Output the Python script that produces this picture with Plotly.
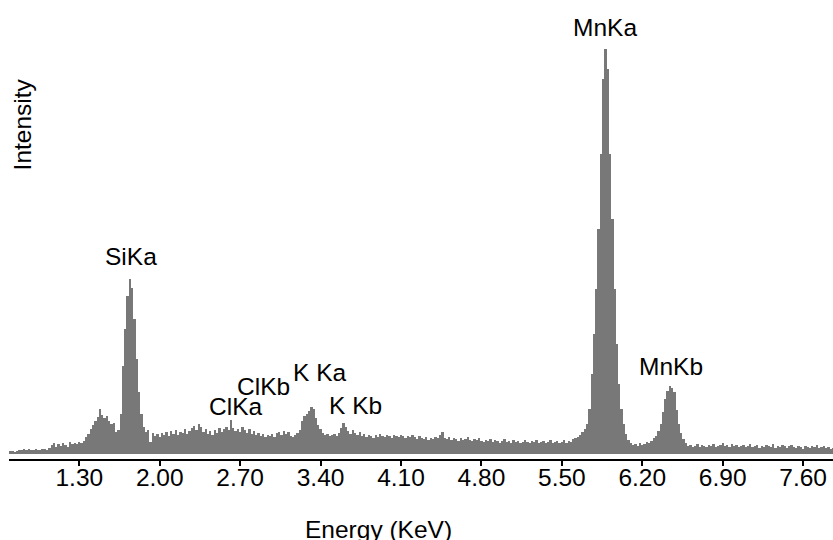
import plotly.graph_objects as go

# ---- data ----
e_start = 0.70   # keV, first channel centre
e_step = 0.02    # keV per channel

counts = [
    # 0.70 - 1.04
    3, 3, 2, 3, 4, 4, 5, 4, 5, 4, 4, 5, 4, 4, 5, 5, 4, 6,
    # 1.06 - 1.28
    9, 11, 7, 10, 8, 11, 9, 7, 12, 10, 11, 10,
    # 1.30 - 1.40
    12, 11, 13, 17, 20, 25,
    # 1.42 - 1.64
    29, 33, 37, 45, 39, 36, 38, 33, 30, 31, 22, 24,
    # 1.66 - 1.96 (Si Ka)
    40, 88, 125, 158, 175, 166, 135, 95, 62, 40, 27, 22, 24, 12, 21, 18,
    # 1.98 - 2.28
    20, 17, 21, 19, 22, 18, 23, 20, 24, 19, 22, 21, 25, 20, 23, 26,
    # 2.30 - 2.40
    28, 24, 30, 27, 22, 25,
    # 2.42 - 2.58
    20, 23, 19, 24, 21, 26, 22, 25, 27,
    # 2.60 - 2.64 (Cl Ka)
    24, 34, 26,
    # 2.66 - 2.84
    23, 25, 22, 27, 24, 21, 25, 20, 23, 19,
    # 2.86 - 3.20
    21, 18, 20, 17, 19, 18, 20, 17, 21, 22, 19, 23, 20, 22, 18, 17, 19, 21,
    # 3.22 - 3.40 (K Ka)
    24, 33, 38, 40, 43, 47, 45, 36, 29, 25,
    # 3.42 - 3.56
    21, 19, 20, 18, 19, 20, 18, 21,
    # 3.58 - 3.64 (K Kb)
    26, 31, 27, 23,
    # 3.66 - 4.20
    20, 24, 21, 19, 22, 18, 20, 17, 19, 18, 16, 19, 17, 20, 18, 17, 19, 18,
    16, 19, 18, 17, 19, 18, 16, 18, 17, 19,
    # 4.22 - 5.60
    17, 15, 18, 16, 15, 17, 14, 16, 15, 17,
    16, 19, 22, 16, 15, 17, 14, 16, 15, 13,
    16, 14, 15, 17, 14, 13, 15, 14, 16, 13,
    12, 14, 13, 15, 12, 14, 13, 11, 13, 15,
    12, 13, 11, 14, 12, 13, 11, 12, 14, 12,
    11, 13, 12, 14, 11, 12, 13, 11, 12, 14,
    11, 12, 13, 11, 12, 14, 11, 13, 12, 15,
    # 5.62 - 6.08 (Mn Ka)
    16, 17, 19, 22, 25, 30, 45, 80, 120, 165, 225, 300, 375, 405, 385,
    300, 235, 165, 110, 70, 45, 30, 20, 14,
    # 6.10 - 6.30
    11, 9, 10, 8, 11, 9, 10, 12, 11, 13, 16,
    # 6.32 - 6.60 (Mn Kb)
    18, 23, 30, 42, 55, 63, 68, 66, 62, 44, 30, 21, 15, 11, 8,
    # 6.62 - 7.86
    9, 7, 8, 10, 7, 9, 8, 7, 9, 8,
    10, 7, 8, 9, 11, 8, 9, 7, 10, 8,
    9, 7, 8, 9, 7, 8, 10, 7, 8, 9,
    6, 8, 7, 9, 8, 7, 10, 6, 8, 7,
    9, 8, 6, 8, 9, 7, 6, 8, 7, 5,
    8, 7, 6, 8, 7, 9, 6, 7, 8, 6,
    7, 5, 6,
]

energies = [round(e_start + i * e_step, 2) for i in range(len(counts))]

tick_values = [1.30, 2.00, 2.70, 3.40, 4.10, 4.80, 5.50, 6.20, 6.90, 7.60]
tick_text = ["1.30", "2.00", "2.70", "3.40", "4.10", "4.80", "5.50", "6.20", "6.90", "7.60"]

peak_names = ["SiKa", "ClKa", "ClKb", "K Ka", "K Kb", "MnKa", "MnKb"]

# ---- styling / placement ----
FONT = "Liberation Sans, Arial, sans-serif"
FS = 24.5
label_pos = {  # (x in keV, y in data units) for the text centres
    "SiKa": (1.754, 198),
    "ClKa": (2.657, 47.5),
    "ClKb": (2.902, 67.5),
    "K Ka": (3.392, 81.5),
    "K Kb": (3.704, 49),
    "MnKa": (5.877, 426.5),
    "MnKb": (6.453, 88),
}

fig = go.Figure(
    go.Bar(
        x=energies,
        y=counts,
        width=e_step,
        marker=dict(color="#787878", line=dict(width=0)),
        hoverinfo="x+y",
    )
)

annotations = []
for name in peak_names:
    px, py = label_pos[name]
    annotations.append(dict(
        x=px, y=py, xref="x", yref="y", text=name, showarrow=False,
        xanchor="center", yanchor="middle",
        font=dict(family=FONT, size=FS, color="black"),
    ))

annotations.append(dict(
    x=0.0158, y=0.729, xref="paper", yref="paper", text="Intensity",
    showarrow=False, textangle=-90, xanchor="center", yanchor="middle",
    font=dict(family=FONT, size=FS, color="black"),
))
annotations.append(dict(
    x=0.448, y=-0.154, xref="paper", yref="paper", text="Energy (KeV)",
    showarrow=False, xanchor="center", yanchor="middle",
    font=dict(family=FONT, size=FS, color="black"),
))

fig.update_layout(
    width=833, height=540,
    margin=dict(l=9, r=0, t=0, b=81),
    paper_bgcolor="white", plot_bgcolor="white",
    bargap=0, showlegend=False,
    annotations=annotations,
    xaxis=dict(
        range=[0.688, 7.860],
        tickvals=tick_values, ticktext=tick_text,
        ticks="outside", ticklen=5, tickwidth=1.5, tickcolor="black",
        ticklabelstandoff=-9,
        showline=True, linecolor="black", linewidth=2,
        showgrid=False, zeroline=False,
        tickfont=dict(family=FONT, size=FS, color="black"),
    ),
    yaxis=dict(range=[-5, 454], visible=False),
)

fig.write_html(
    "out.html",
    config={"displayModeBar": False},
    post_script="document.body.style.margin='0';document.body.style.overflow='hidden';",
)
